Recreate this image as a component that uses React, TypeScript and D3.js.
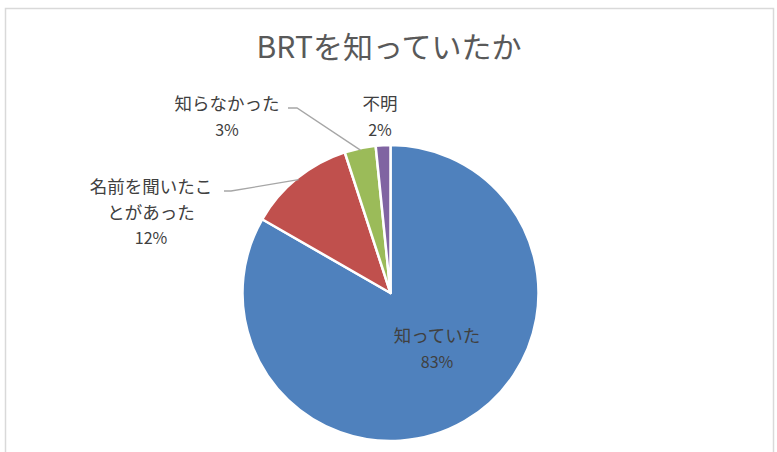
import React from "react";
import * as d3 from "d3";

const title = "BRTを知っていたか";
const categories = ["知っていた", "名前を聞いたことがあった", "知らなかった", "不明"];
const values = [83.3, 11.7, 3.4, 1.6];
const percentLabels = ["83%", "12%", "3%", "2%"];
const colors = ["#4F81BD", "#C0504D", "#9BBB59", "#8064A2"];

// label layout (text lines + anchor, leader line elbow)
const labelLines = [["知っていた"], ["名前を聞いたこ", "とがあった"], ["知らなかった"], ["不明"]];
const labelPos = [
  { x: 437, y: 342, leader: null },
  { x: 151, y: 193, leader: { x1: 224, x2: 231 } },
  { x: 227, y: 110, leader: { x1: 288, x2: 297 } },
  { x: 380, y: 110, leader: null },
];

const W = 777;
const H = 452;
const cx = 390.5;
const cy = 293;
const R = 148;
const FONT = "'Noto Sans CJK JP', 'Noto Sans', sans-serif";

export default function App() {
  const pie = d3.pie<number>().sort(null).value((d) => d)(values);
  const arc = d3.arc<d3.PieArcDatum<number>>().innerRadius(0).outerRadius(R);
  const edge = d3.arc<d3.PieArcDatum<number>>().innerRadius(R - 2).outerRadius(R - 2);
  const lh = 25.5;

  return (
    <svg width={W} height={H} style={{ position: "absolute", left: 0, top: 0, background: "#fff" }}>
      <rect x={5.5} y={8.5} width={768} height={H + 10} fill="#fff" stroke="#D9D9D9" strokeWidth={1.5} />
      <text x={389} y={58} textAnchor="middle" fontFamily={FONT} fontSize={30} fill="#595959">
        {title}
      </text>
      <g transform={`translate(${cx},${cy})`}>
        {pie.map((p, i) => (
          <path key={i} d={arc(p) || ""} fill={colors[i]} stroke="#fff" strokeWidth={2.5} strokeLinejoin="round" />
        ))}
      </g>
      {pie.map((p, i) => {
        const lp = labelPos[i];
        if (!lp.leader) return null;
        const [ex, ey] = edge.centroid(p);
        const ly = lp.y - 2;
        return (
          <polyline
            key={"l" + i}
            points={`${lp.leader.x1},${ly} ${lp.leader.x2},${ly} ${cx + ex},${cy + ey}`}
            fill="none"
            stroke="#A6A6A6"
            strokeWidth={1.3}
          />
        );
      })}
      {labelLines.map((lines, i) => {
        const lp = labelPos[i];
        const all = [...lines, percentLabels[i]];
        return (
          <text key={"t" + i} textAnchor="middle" fontFamily={FONT} fontSize={17.5} fill="#404040">
            {all.map((s, j) => (
              <tspan key={j} x={lp.x} y={lp.y + j * lh} fontSize={j === all.length - 1 ? 16 : 17.5}>
                {s}
              </tspan>
            ))}
          </text>
        );
      })}
    </svg>
  );
}
